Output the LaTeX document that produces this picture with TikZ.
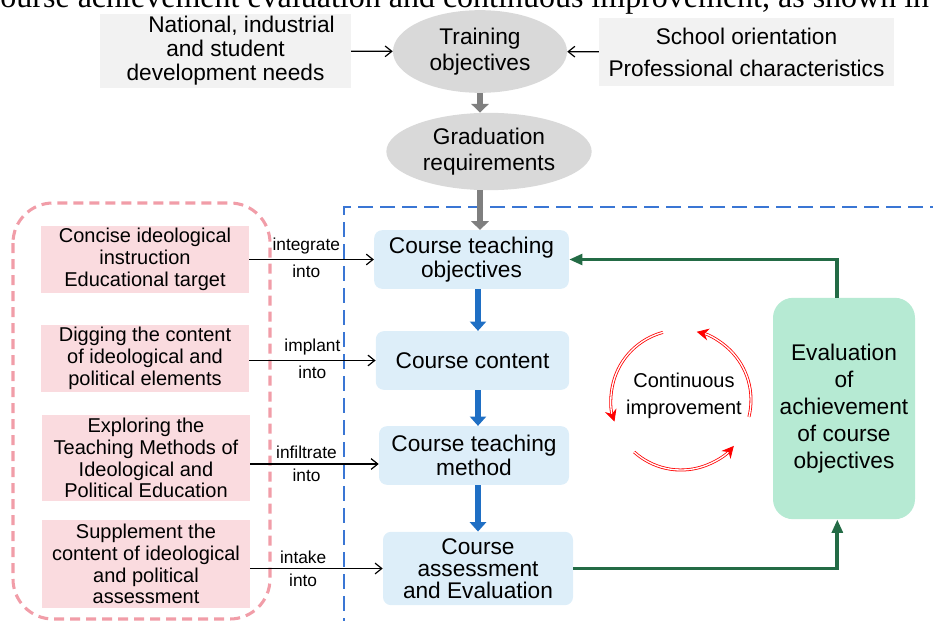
\documentclass[tikz,border=0pt]{standalone}
\usepackage{fontspec}
\setmainfont{Liberation Sans}
\newfontfamily\leadserif{Liberation Serif}
\usetikzlibrary{arrows.meta,shapes.geometric}

\definecolor{paneGray}{HTML}{F2F2F2}
\definecolor{ovalGray}{HTML}{D9D9D9}
\definecolor{flowGray}{HTML}{7F7F7F}
\definecolor{ideaPink}{HTML}{FADBDF}
\definecolor{framePink}{HTML}{F19DA8}
\definecolor{stageBlue}{HTML}{DDEEF9}
\definecolor{frameBlue}{HTML}{3A76D4}
\definecolor{flowBlue}{HTML}{1F6FC4}
\definecolor{evalGreen}{HTML}{B6EAD3}
\definecolor{loopGreen}{HTML}{236B45}

\newcommand{\setfs}[2]{\fontsize{#1}{#2}\selectfont}

\begin{document}
\begin{tikzpicture}[x=0.75pt,y=-0.75pt,
  needbox/.style={fill=paneGray,inner sep=0pt,align=center},
  oval/.style={ellipse,fill=ovalGray,inner sep=0pt,align=center,font=\setfs{17}{20}},
  idea/.style={fill=ideaPink,inner sep=0pt,minimum width=156pt,align=center,font=\setfs{15}{16.3}},
  stage/.style={fill=stageBlue,rounded corners=6pt,inner sep=0pt,align=center,font=\setfs{17}{18.3}},
  verb/.style={font=\setfs{13}{15},inner sep=3.5pt},
  feed/.style={line width=0.9pt,-{Straight Barb[length=5pt,width=8pt]}},
  graydrop/.style={draw=flowGray,line width=5pt,-{Triangle[length=6.5pt,width=13pt]}},
  bluedrop/.style={draw=flowBlue,line width=4.5pt,-{Triangle[length=7pt,width=12pt]}},
  loopback/.style={draw=loopGreen,line width=2.8pt,-{Triangle[length=10pt,width=8pt]}},
  turn/.style={draw=red,double=white,double distance=1pt,line width=0.6pt,
    -{Stealth[length=9pt,width=9pt,inset=3pt]}}]
\useasboundingbox (0,0) rectangle (933,621);

% running text of the page, cut by the top edge
\node[font=\leadserif\setfs{24}{28},anchor=base west,inner sep=0pt] (lead) at (-14,7.5)
  {course achievement evaluation and continuous improvement, as shown in};

% frames
\draw[frameBlue,line width=1.3pt,dash pattern=on 11pt off 5.5pt] (945,207) -| (344,630);
\draw[framePink,line width=2.3pt,dash pattern=on 7.5pt off 4.5pt,rounded corners=30pt]
  (13,203) rectangle (270,619);

% training objectives and where they come from
\node[needbox,minimum width=188pt,minimum height=55.5pt,font=\setfs{17}{18}] (needs) at (225.5,51)
  {\hspace*{24pt}National, industrial\\and student\\development needs};
\node[needbox,minimum width=221pt,minimum height=51pt,font=\setfs{17}{24}] (school) at (746.5,52)
  {School orientation\\Professional characteristics};
\node[oval,minimum width=130.5pt,minimum height=62pt] (train) at (480,51.5) {Training\\objectives};
\node[oval,minimum width=154pt,minimum height=58pt] (grad) at (489,151.5) {Graduation\\requirements};
\draw[feed] (needs) -- (train);
\draw[feed] (school) -- (train);
\draw[graydrop] (train.south) -- (train.south |- grad.north);

% course chain
\node[stage,minimum width=146pt,minimum height=44pt] (c1) at (471.5,259.5) {Course teaching\\objectives};
\node[stage,minimum width=145pt,minimum height=44pt] (c2) at (472.5,360.5) {Course content};
\node[stage,minimum width=142.5pt,minimum height=44pt] (c3) at (474,455.5) {Course teaching\\method};
\node[stage,minimum width=142.5pt,minimum height=55pt,font=\setfs{17}{16.5}] (c4) at (478,568.5)
  {Course\\assessment\\and Evaluation};
\draw[graydrop] (grad.south -| train.south) -- (train.south |- c1.north);
\draw[bluedrop] (c1.south -| c4) -- (c2.north -| c4);
\draw[bluedrop] (c2.south -| c4) -- (c3.north -| c4);
\draw[bluedrop] (c3.south -| c4) -- (c4.north);

% ideological and political side
\node[idea,minimum height=50pt] (p1) at (145,259.5) {Concise ideological\\instruction\\Educational target};
\node[idea,minimum height=50pt] (p2) at (145,358.5) {Digging the content\\of ideological and\\political elements};
\node[idea,minimum height=64.5pt] (p3) at (146,458)
  {Exploring the\\Teaching Methods of\\Ideological and\\Political Education};
\node[idea,minimum height=66pt] (p4) at (146,564)
  {Supplement the\\content of ideological\\and political\\assessment};
\coordinate (m3) at (373,464);
\draw[feed] (p1.east) -- node[verb,above,xshift=-4pt]{integrate} node[verb,below,xshift=-4pt]{into} (p1.east -| c1.west);
\draw[feed] (p2.east |- c2.west) -- node[verb,above]{implant} node[verb,below]{into} (c2.west);
\draw[feed] (p3.east |- m3) -- node[verb,above,xshift=-6pt]{infiltrate} node[verb,below,xshift=-6pt]{into} (c3.west |- m3);
\draw[feed] (p4.east |- c4.west) -- node[verb,above,xshift=-10pt]{intake} node[verb,below,xshift=-10pt]{into} (c4.west);

% evaluation and the loop back
\node[fill=evalGreen,rounded corners=15pt,inner sep=0pt,minimum width=106.5pt,minimum height=166pt,
  align=center,font=\setfs{17}{20.3}] (eval) at (844,408.5)
  {Evaluation\\of\\achievement\\of course\\objectives};
\draw[loopback] (c4.east) -| ([xshift=-5pt]eval.south);
\draw[loopback] ([xshift=-5pt]eval.north) |- (c1.east);

% continuous improvement cycle
\coordinate (loopc) at (681,400);
\node[align=center,font=\setfs{15}{20},inner sep=0pt] (ci) at (684,396) {Continuous\\improvement};
\draw[turn] ([shift={(105:52.5pt)}]loopc) arc[start angle=105,end angle=198,radius=52.5pt];
\draw[turn] ([shift={(228:52.5pt)}]loopc) arc[start angle=228,end angle=319,radius=52.5pt];
\draw[turn] ([shift={(346:52.5pt)}]loopc) arc[start angle=346,end angle=437,radius=52.5pt];
\end{tikzpicture}
\end{document}
